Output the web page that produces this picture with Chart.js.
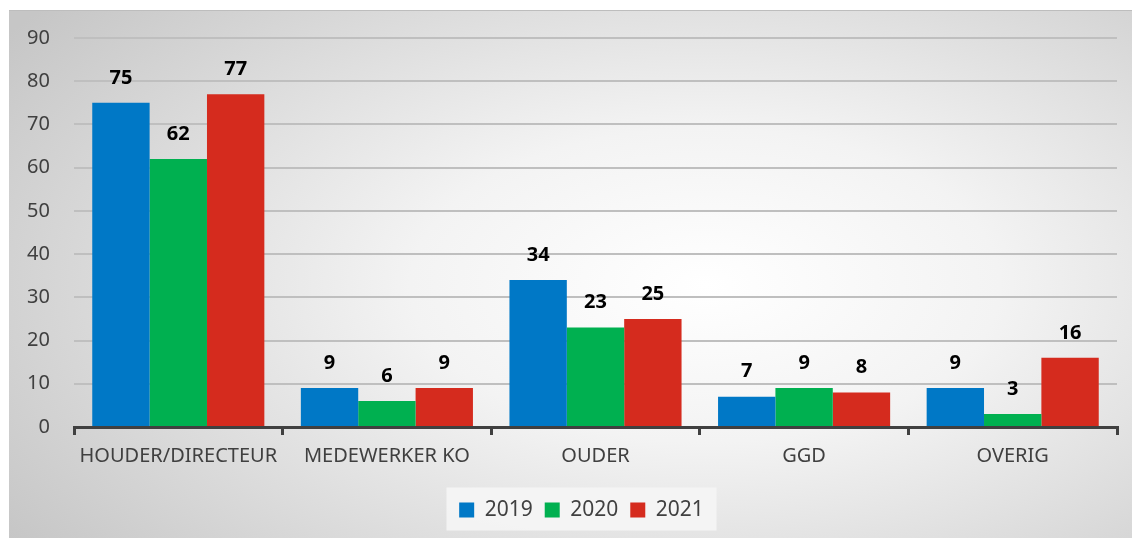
<!DOCTYPE html>
<html>
<head>
<meta charset="utf-8">
<script src="https://cdn.jsdelivr.net/npm/chart.js@4.4.0/dist/chart.umd.min.js"></script>
<style>
  body { margin: 0; background: #fff; }
  #bg {
    position: absolute; left: 9px; top: 10px; width: 1123px; height: 527px;
    background: radial-gradient(ellipse 75% 85% at 62% 52%, #ffffff 0%, #f3f3f3 35%, #c6c6c6 100%);
    border-top: 1px solid #bdbdbd;
  }
  #wrap { position: absolute; left: 0; top: 0; width: 1138px; height: 539px; }
</style>
</head>
<body>
<div id="bg"></div>
<div id="wrap"><canvas id="chart"></canvas></div>
<script>
const categories = ['HOUDER/DIRECTEUR', 'MEDEWERKER KO', 'OUDER', 'GGD', 'OVERIG'];
const values2019 = [75, 9, 34, 7, 9];
const values2020 = [62, 6, 23, 9, 3];
const values2021 = [77, 9, 25, 8, 16];

const font = "'Noto Sans', 'Open Sans', sans-serif";

// numbers above the bars
const valueLabels = {
  id: 'valueLabels',
  afterDatasetsDraw(chart) {
    const ctx = chart.ctx;
    ctx.save();
    ctx.font = 'bold 20px ' + font;
    ctx.fillStyle = '#000';
    ctx.textAlign = 'center';
    ctx.textBaseline = 'middle';
    chart.data.datasets.forEach((ds, i) => {
      chart.getDatasetMeta(i).data.forEach((bar, j) => {
        ctx.fillText(ds.data[j], bar.x, bar.y - 25);
      });
    });
    ctx.restore();
  }
};

// light box behind the legend, legend nudged right a bit
const legendBox = {
  id: 'legendBox',
  afterLayout(chart) {
    chart.legend.left += 13;
    chart.legend.right += 13;
  },
  beforeDraw(chart) {
    const lg = chart.legend;
    const ctx = chart.ctx;
    ctx.save();
    ctx.fillStyle = 'rgba(245,245,245,0.9)';
    const w = 270;
    const cx = (lg.left + lg.right) / 2;
    ctx.fillRect(cx - w / 2, lg.top, w, lg.height);
    ctx.restore();
  }
};

new Chart(document.getElementById('chart'), {
  type: 'bar',
  data: {
    labels: categories,
    datasets: [
      { label: '2019', data: values2019, backgroundColor: '#0078c6' },
      { label: '2020', data: values2020, backgroundColor: '#00b050' },
      { label: '2021', data: values2021, backgroundColor: '#d52b1e' }
    ]
  },
  options: {
    responsive: true,
    maintainAspectRatio: false,
    animation: false,
    layout: { padding: { left: 20, right: 21, top: 38, bottom: 8.5 } },
    datasets: { bar: { categoryPercentage: 0.825, barPercentage: 1 } },
    scales: {
      x: {
        afterFit(scale) { scale.height = 60.5; },
        border: { display: true, color: '#404040', width: 3 },
        grid: { drawOnChartArea: false, drawTicks: true, tickLength: 8, color: '#404040', lineWidth: 3 },
        ticks: { color: '#404040', font: { family: font, size: 20 }, padding: 9, maxRotation: 0 }
      },
      y: {
        min: 0, max: 90,
        afterFit(scale) { scale.width = 54; },
        border: { display: false },
        grid: { color: '#bfbfbf', lineWidth: 2, drawTicks: false },
        ticks: { stepSize: 10, color: '#404040', font: { family: font, size: 20 }, padding: 24 }
      }
    },
    plugins: {
      legend: {
        position: 'bottom',
        labels: { color: '#404040', font: { family: font, size: 21 }, boxWidth: 15, boxHeight: 15, padding: 12 }
      },
      tooltip: { enabled: false }
    }
  },
  plugins: [valueLabels, legendBox]
});
</script>
</body>
</html>
